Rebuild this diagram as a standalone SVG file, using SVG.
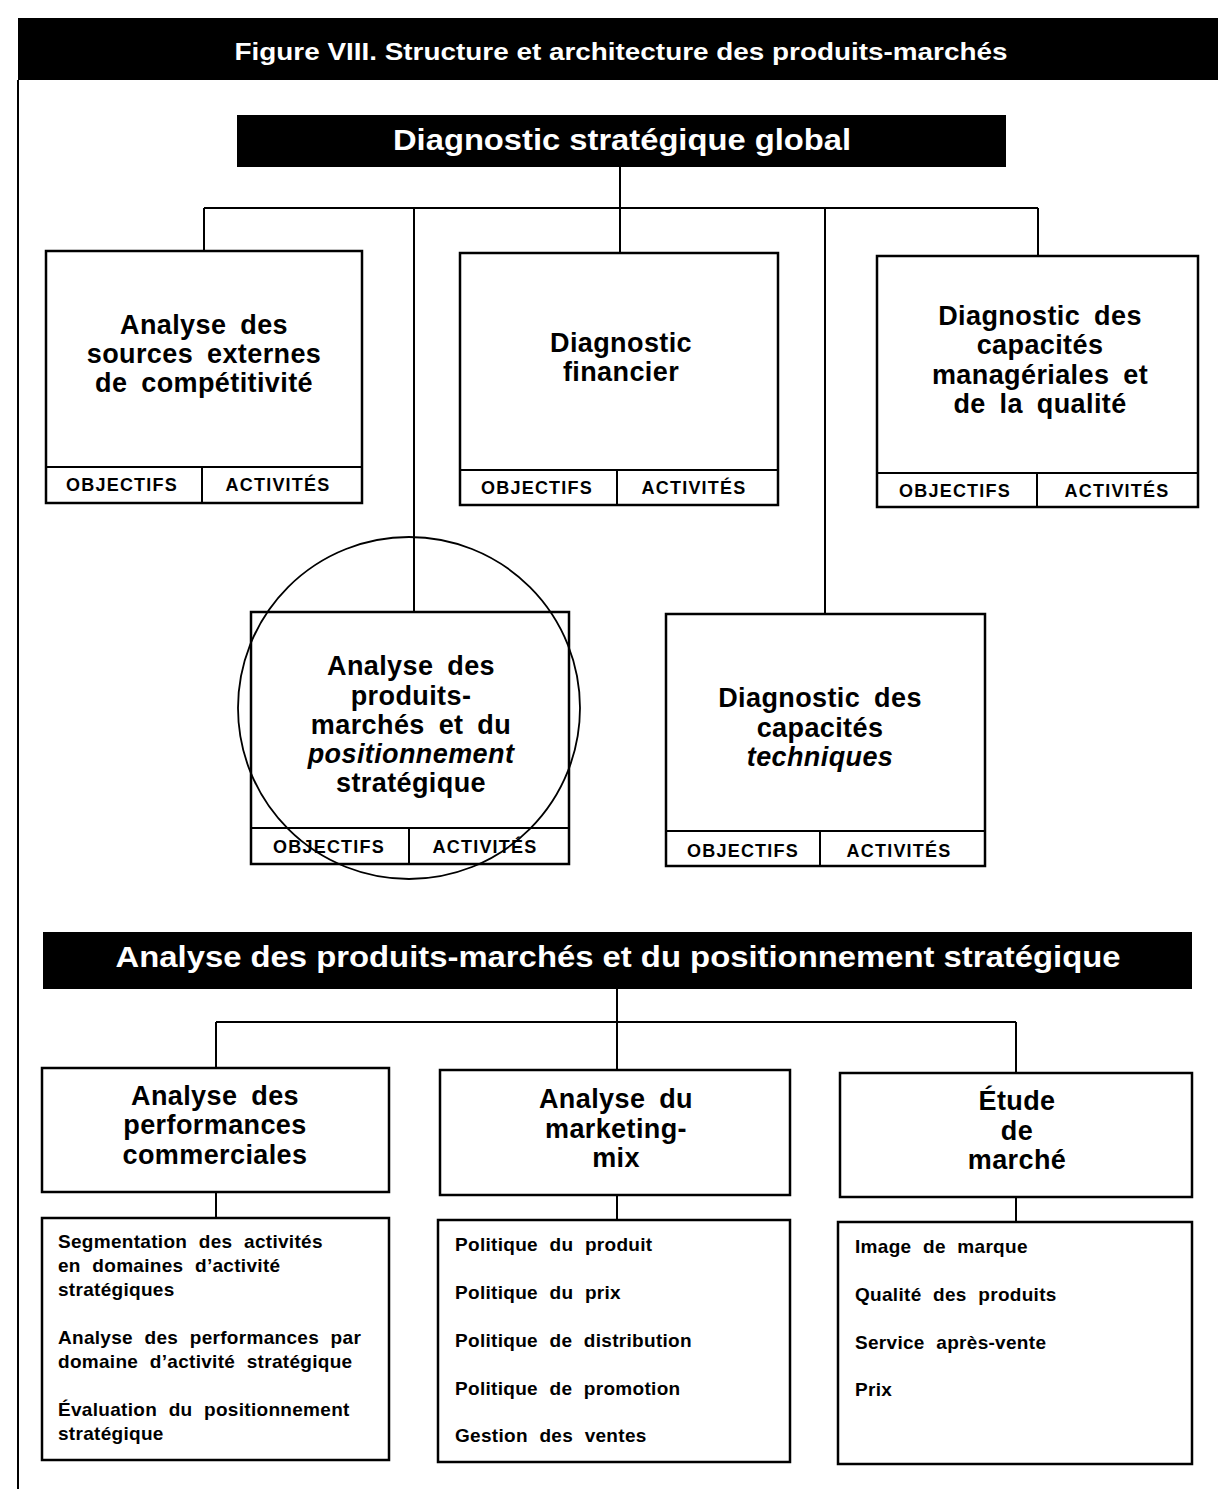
<svg xmlns="http://www.w3.org/2000/svg" width="1218" height="1489" viewBox="0 0 1218 1489">
<style>
.bar{fill:#000}
.bt{fill:#fff;font-family:"Liberation Sans",Arial,sans-serif;font-weight:bold;text-anchor:middle}
.box{fill:#fff;stroke:#000;stroke-width:2.5}
.div{stroke:#000;stroke-width:2;fill:none}
.h{font-family:"Liberation Sans",Arial,sans-serif;font-weight:bold;font-size:27px;letter-spacing:0.4px;word-spacing:6px;text-anchor:middle;fill:#000}
.tag{font-family:"Liberation Sans",Arial,sans-serif;font-weight:bold;font-size:18px;letter-spacing:1.2px;text-anchor:middle;fill:#000}
.li{font-family:"Liberation Sans",Arial,sans-serif;font-weight:bold;font-size:19px;letter-spacing:0.3px;word-spacing:6px;fill:#000}
.c{stroke:#000;stroke-width:2;fill:none}
</style>
<line x1="18" y1="80" x2="18" y2="1489" stroke="#000" stroke-width="2"/>
<g id="title">
<rect class="bar" x="18" y="18" width="1200" height="62"/>
<text class="bt" x="621" y="60" font-size="24" textLength="773" lengthAdjust="spacingAndGlyphs">Figure VIII.  Structure et architecture des produits-marchés</text>
</g>
<g id="connectors">
<path class="c" d="M620 167V208M204 208H1038M204 208V251M414 208V612M620 208V253M825 208V614M1038 208V256"/>
<path class="c" d="M617 989V1022M216 1022H1016M216 1022V1068M617 1022V1070M1016 1022V1073"/>
<path class="c" d="M216 1192V1218M617 1195V1220M1016 1197V1222"/>
</g>
<g id="n-global">
<rect class="bar" x="237" y="115" width="769" height="52"/>
<text class="bt" x="622" y="150" font-size="29" textLength="458" lengthAdjust="spacingAndGlyphs">Diagnostic stratégique global</text>
</g>
<g id="n-sources">
<rect class="box" x="46" y="251" width="316" height="252"/>
<path class="div" d="M46 467H362M202 467V503"/>
<text class="h" x="204" y="334">Analyse des</text>
<text class="h" x="204" y="363">sources externes</text>
<text class="h" x="204" y="392">de compétitivité</text>
<text class="tag" x="122" y="491">OBJECTIFS</text>
<text class="tag" x="278" y="491">ACTIVITÉS</text>
</g>
<g id="n-financier">
<rect class="box" x="460" y="253" width="318" height="252"/>
<path class="div" d="M460 470H778M617 470V505"/>
<text class="h" x="621" y="352">Diagnostic</text>
<text class="h" x="621" y="381">financier</text>
<text class="tag" x="537" y="494">OBJECTIFS</text>
<text class="tag" x="694" y="494">ACTIVITÉS</text>
</g>
<g id="n-manageriales">
<rect class="box" x="877" y="256" width="321" height="251"/>
<path class="div" d="M877 473H1198M1037 473V507"/>
<text class="h" x="1040" y="325">Diagnostic des</text>
<text class="h" x="1040" y="354">capacités</text>
<text class="h" x="1040" y="384">managériales et</text>
<text class="h" x="1040" y="413">de la qualité</text>
<text class="tag" x="955" y="497">OBJECTIFS</text>
<text class="tag" x="1117" y="497">ACTIVITÉS</text>
</g>
<g id="n-produits">
<rect class="box" x="251" y="612" width="318" height="252"/>
<path class="div" d="M251 828H569M409 828V864"/>
<text class="h" x="411" y="675">Analyse des</text>
<text class="h" x="411" y="705">produits-</text>
<text class="h" x="411" y="734">marchés et du</text>
<text class="h" x="411" y="763" font-style="italic">positionnement</text>
<text class="h" x="411" y="792">stratégique</text>
<text class="tag" x="329" y="853">OBJECTIFS</text>
<text class="tag" x="485" y="853">ACTIVITÉS</text>
<circle cx="409" cy="708" r="171" fill="none" stroke="#000" stroke-width="1.8"/>
</g>
<g id="n-techniques">
<rect class="box" x="666" y="614" width="319" height="252"/>
<path class="div" d="M666 831H985M820 831V866"/>
<text class="h" x="820" y="707">Diagnostic des</text>
<text class="h" x="820" y="737">capacités</text>
<text class="h" x="820" y="766" font-style="italic">techniques</text>
<text class="tag" x="743" y="857">OBJECTIFS</text>
<text class="tag" x="899" y="857">ACTIVITÉS</text>
</g>
<g id="section2">
<rect class="bar" x="43" y="932" width="1149" height="57"/>
<text class="bt" x="618" y="967" font-size="29" textLength="1005" lengthAdjust="spacingAndGlyphs">Analyse des produits-marchés et du positionnement stratégique</text>
</g>
<g id="n-performances">
<rect class="box" x="42" y="1068" width="347" height="124"/>
<text class="h" x="215" y="1105">Analyse des</text>
<text class="h" x="215" y="1134">performances</text>
<text class="h" x="215" y="1164">commerciales</text>
</g>
<g id="n-marketing">
<rect class="box" x="440" y="1070" width="350" height="125"/>
<text class="h" x="616" y="1108">Analyse du</text>
<text class="h" x="616" y="1138">marketing-</text>
<text class="h" x="616" y="1167">mix</text>
</g>
<g id="n-etude">
<rect class="box" x="840" y="1073" width="352" height="124"/>
<text class="h" x="1017" y="1110">Étude</text>
<text class="h" x="1017" y="1140">de</text>
<text class="h" x="1017" y="1169">marché</text>
</g>
<g id="l-performances">
<rect class="box" x="42" y="1218" width="347" height="242"/>
<text class="li" x="58" y="1248">Segmentation des activités</text>
<text class="li" x="58" y="1272">en domaines d’activité</text>
<text class="li" x="58" y="1296">stratégiques</text>
<text class="li" x="58" y="1344">Analyse des performances par</text>
<text class="li" x="58" y="1368">domaine d’activité stratégique</text>
<text class="li" x="58" y="1416">Évaluation du positionnement</text>
<text class="li" x="58" y="1440">stratégique</text>
</g>
<g id="l-marketing">
<rect class="box" x="438" y="1220" width="352" height="242"/>
<text class="li" x="455" y="1251">Politique du produit</text>
<text class="li" x="455" y="1299">Politique du prix</text>
<text class="li" x="455" y="1347">Politique de distribution</text>
<text class="li" x="455" y="1395">Politique de promotion</text>
<text class="li" x="455" y="1442">Gestion des ventes</text>
</g>
<g id="l-etude">
<rect class="box" x="838" y="1222" width="354" height="242"/>
<text class="li" x="855" y="1253">Image de marque</text>
<text class="li" x="855" y="1301">Qualité des produits</text>
<text class="li" x="855" y="1349">Service après-vente</text>
<text class="li" x="855" y="1396">Prix</text>
</g>
</svg>
